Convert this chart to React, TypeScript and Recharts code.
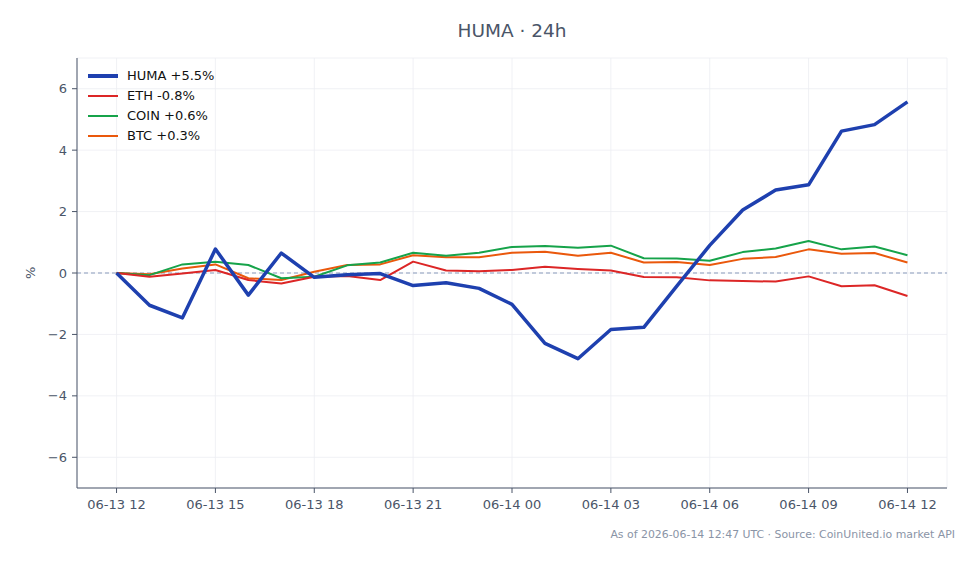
import React from 'react';
import { LineChart, Line, XAxis, YAxis, CartesianGrid, ReferenceLine } from 'recharts';

const hours = [0,1,2,3,4,5,6,7,8,9,10,11,12,13,14,15,16,17,18,19,20,21,22,23,24];
const huma = [0,-1.05,-1.46,0.78,-0.72,0.65,-0.14,-0.06,-0.02,-0.41,-0.32,-0.5,-1.02,-2.29,-2.79,-1.84,-1.77,-0.43,0.9,2.05,2.7,2.87,4.62,4.83,5.57];
const eth = [0,-0.12,-0.02,0.1,-0.23,-0.34,-0.12,-0.1,-0.23,0.37,0.08,0.06,0.1,0.2,0.13,0.08,-0.13,-0.14,-0.24,-0.26,-0.28,-0.11,-0.43,-0.4,-0.75];
const coin = [0,-0.07,0.28,0.37,0.26,-0.17,-0.12,0.25,0.34,0.66,0.56,0.66,0.85,0.88,0.82,0.89,0.48,0.47,0.4,0.68,0.8,1.04,0.77,0.86,0.58];
const btc = [0,-0.04,0.15,0.28,-0.17,-0.23,0.04,0.26,0.28,0.58,0.51,0.51,0.66,0.69,0.56,0.66,0.34,0.36,0.26,0.46,0.52,0.77,0.63,0.65,0.34];

const xTicks = [0,3,6,9,12,15,18,21,24];
const xTickLabels = ['06-13 12','06-13 15','06-13 18','06-13 21','06-14 00','06-14 03','06-14 06','06-14 09','06-14 12'];
const yTicks = [-6,-4,-2,0,2,4,6];

const seriesNames = ['HUMA +5.5%','ETH -0.8%','COIN +0.6%','BTC +0.3%'];
const seriesKeys = ['huma','eth','coin','btc'];
const seriesColors = ['#1e40af','#dc2626','#16a34a','#ea580c'];
const seriesWidths = [3.5,2,2,2];

const data = hours.map((h, i) => ({ h, huma: huma[i], eth: eth[i], coin: coin[i], btc: btc[i] }));

const FONT = '"DejaVu Sans", sans-serif';
const AXIS = '#4a5568';

export default function App() {
  return (
    <div style={{ position: 'absolute', left: 0, top: 0, width: 979, height: 564, background: '#fff', fontFamily: FONT }}>
      <div style={{ position: 'absolute', left: 0, width: 979, top: 20, textAlign: 'center', paddingLeft: 45, boxSizing: 'border-box', fontSize: 18.5, color: '#4a5568' }}>HUMA · 24h</div>
      <LineChart width={979} height={564} data={data} margin={{ top: 58, right: 32, bottom: 46, left: 27 }}>
        <CartesianGrid stroke="#eceef2" strokeWidth={0.8} />
        <XAxis
          dataKey="h"
          type="number"
          domain={[-1.2, 25.2]}
          ticks={xTicks}
          tickFormatter={(v: number) => xTickLabels[xTicks.indexOf(v)]}
          stroke={AXIS}
          tick={{ fill: '#4a5568', fontSize: 13, fontFamily: FONT }}
          tickSize={5}
          tickMargin={7}
          height={30}
          allowDataOverflow
        />
        <YAxis
          type="number"
          domain={[-7, 7]}
          ticks={yTicks}
          tickFormatter={(v: number) => (v < 0 ? '\u2212' + Math.abs(v) : String(v))}
          stroke={AXIS}
          tick={{ fill: '#4a5568', fontSize: 13, fontFamily: FONT }}
          tickSize={5}
          tickMargin={5}
          width={50}
          label={{ value: '%', angle: -90, position: 'insideLeft', offset: 0, dx: 3, dy: 6, fill: '#4a5568', fontSize: 13, fontFamily: FONT }}
          allowDataOverflow
        />
        <ReferenceLine y={0} stroke="#8a9bbb" strokeDasharray="4 3" strokeWidth={1} />
        {seriesKeys.map((k, i) => (
          <Line key={k} dataKey={k} name={seriesNames[i]} type="linear" stroke={seriesColors[i]} strokeWidth={seriesWidths[i]} dot={false} isAnimationActive={false} strokeLinejoin="round" />
        )).reverse()}
      </LineChart>
      <div style={{ position: 'absolute', left: 88, top: 66, fontSize: 13, color: '#111', lineHeight: '20px' }}>
        {seriesNames.map((n, i) => (
          <div key={n} style={{ display: 'flex', alignItems: 'center', height: 20 }}>
            <div style={{ width: 30, height: seriesWidths[i] + (i === 0 ? 0.5 : 0), background: seriesColors[i], marginRight: 9 }} />
            <span>{n}</span>
          </div>
        ))}
      </div>
      <div style={{ position: 'absolute', right: 24, top: 528, fontSize: 10.9, color: '#8a94a6' }}>As of 2026-06-14 12:47 UTC · Source: CoinUnited.io market API</div>
    </div>
  );
}
